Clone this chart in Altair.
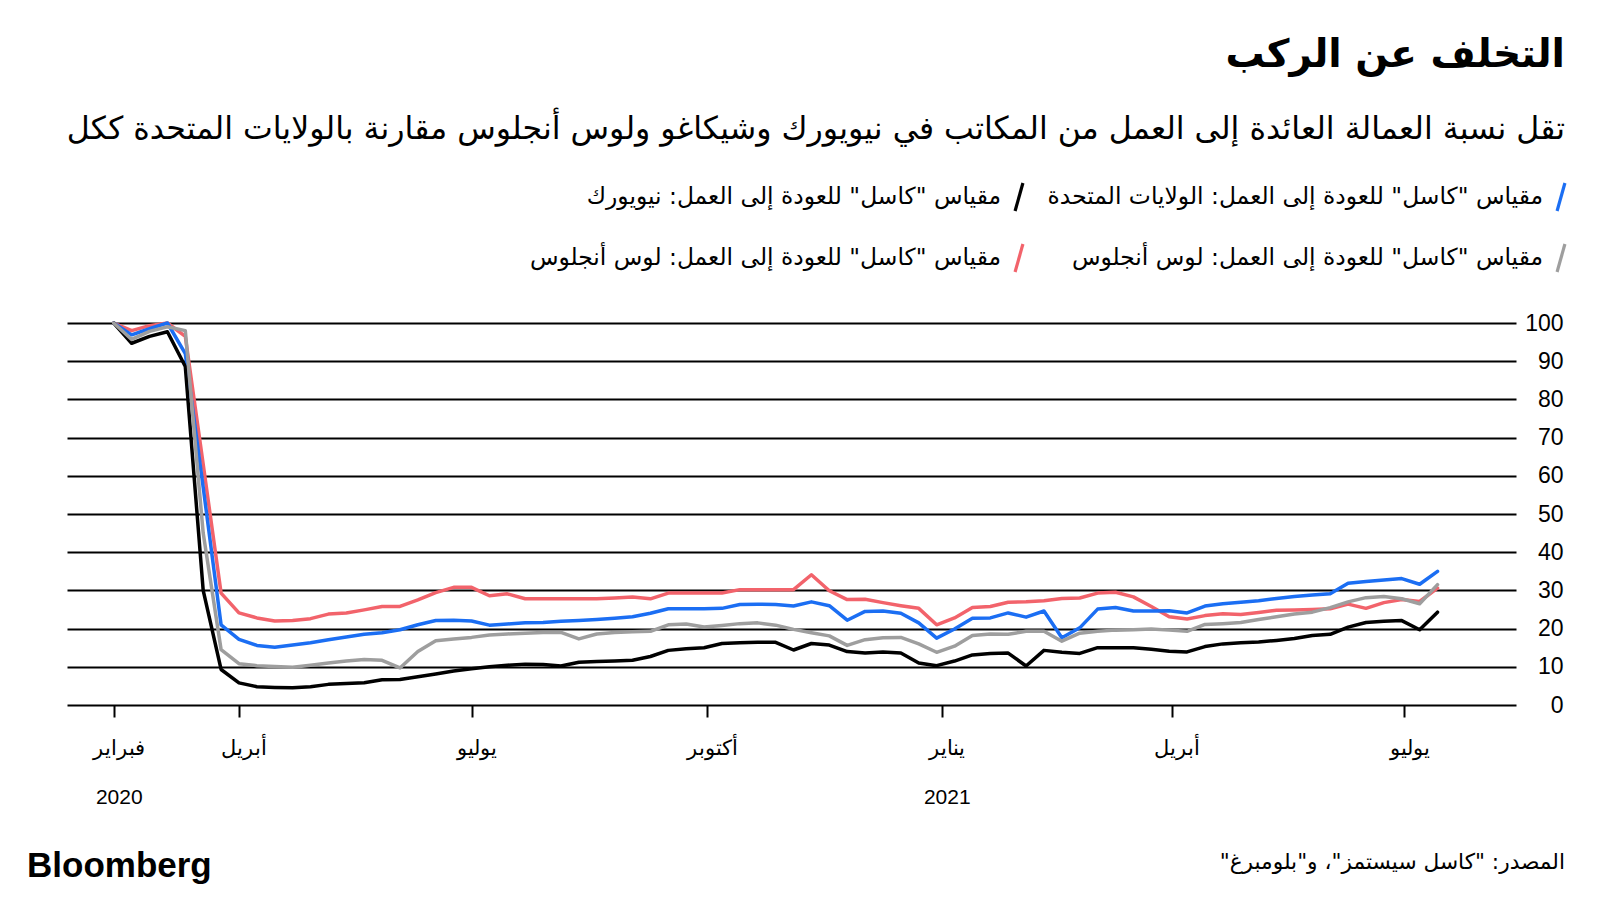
import altair as alt
import pandas as pd

# Weekly (Wednesday) observations, Kastle Back-to-Work barometer
week_dates = pd.date_range("2020-02-12", periods=75, freq="7D").strftime("%Y-%m-%d").tolist()

us = [100, 96.9, 98.5, 100, 92, 57, 21, 17.2, 15.6, 15.1,
      15.7, 16.3, 17.1, 17.8, 18.5, 18.9, 19.7, 21.0, 22.1, 22.2,
      22.0, 20.9, 21.2, 21.5, 21.6, 21.9, 22.1, 22.4, 22.7, 23.1,
      24.0, 25.2, 25.2, 25.2, 25.3, 26.3, 26.4, 26.3, 25.9, 27.0,
      26.0, 22.2, 24.5, 24.6, 24.0, 21.5, 17.5, 19.9, 22.7, 22.8,
      24.1, 23.0, 24.6, 17.6, 20.2, 25.1, 25.5, 24.6, 24.6, 24.7,
      24.1, 25.9, 26.5, 26.9, 27.3, 27.9, 28.4, 28.8, 29.1, 31.9,
      32.3, 32.7, 33.1, 31.6, 35.0]

ny = [100, 94.7, 96.5, 97.7, 88.6, 30, 9.3, 5.8, 4.8, 4.6,
      4.5, 4.8, 5.4, 5.6, 5.8, 6.6, 6.7, 7.4, 8.1, 8.9,
      9.5, 10.0, 10.4, 10.7, 10.6, 10.2, 11.2, 11.4, 11.5, 11.7,
      12.7, 14.3, 14.7, 15.0, 16.1, 16.3, 16.4, 16.4, 14.4, 16.1,
      15.7, 14.0, 13.6, 13.9, 13.6, 11.0, 10.3, 11.5, 13.1, 13.5,
      13.6, 10.2, 14.3, 13.8, 13.5, 15.0, 15.0, 15.0, 14.6, 14.1,
      13.9, 15.3, 16.0, 16.3, 16.5, 16.9, 17.4, 18.2, 18.5, 20.4,
      21.6, 21.9, 22.1, 19.7, 24.3]

la_gray = [100, 95.7, 97.8, 99.0, 98.0, 45, 14.5, 10.8, 10.3, 10.1,
           9.9, 10.4, 11.0, 11.5, 11.9, 11.7, 9.7, 14.0, 16.8, 17.3,
           17.7, 18.3, 18.6, 18.8, 19.0, 19.0, 17.3, 18.6, 19.0, 19.2,
           19.3, 21.0, 21.2, 20.4, 20.8, 21.3, 21.5, 20.9, 19.8, 18.9,
           18.1, 15.6, 17.1, 17.6, 17.7, 16.0, 13.8, 15.4, 18.2, 18.6,
           18.5, 19.3, 19.3, 16.7, 18.8, 19.3, 19.6, 19.7, 19.9, 19.6,
           19.3, 21.1, 21.3, 21.6, 22.4, 23.1, 23.8, 24.3, 25.5, 27.0,
           28.1, 28.4, 27.8, 26.5, 31.5]

la_red = [100, 98, 99.3, 100, 96.5, 63, 29.3, 24.1, 22.8, 22.0,
          22.1, 22.6, 23.8, 24.1, 24.9, 25.8, 25.8, 27.5, 29.4, 30.8,
          30.8, 28.6, 29.1, 27.8, 27.8, 27.8, 27.8, 27.8, 28.0, 28.3,
          27.8, 29.3, 29.3, 29.3, 29.3, 30.2, 30.2, 30.2, 30.2, 34.1,
          29.9, 27.6, 27.7, 26.8, 26.0, 25.3, 21.0, 22.8, 25.5, 25.8,
          26.9, 27.0, 27.3, 27.9, 28.0, 29.3, 29.5, 28.3, 25.8, 23.1,
          22.5, 23.4, 23.9, 23.7, 24.2, 24.8, 24.9, 25.0, 25.2, 26.4,
          25.3, 26.8, 27.6, 27.1, 30.6]

series_keys = ["us", "ny", "la_gray", "la_red"]
series_colors = ["#1b6ef3", "#000000", "#9e9e9e", "#f2636b"]
draw_order = ["la_red", "us", "ny", "la_gray"]
series_values = {"us": us, "ny": ny, "la_gray": la_gray, "la_red": la_red}

legend_labels = [
    'مقياس "كاسل" للعودة إلى العمل: الولايات المتحدة',
    'مقياس "كاسل" للعودة إلى العمل: نيويورك',
    'مقياس "كاسل" للعودة إلى العمل: لوس أنجلوس',
    'مقياس "كاسل" للعودة إلى العمل: لوس أنجلوس',
]
legend_col = [0, 1, 0, 1]
legend_row = [0, 0, 1, 1]

title_text = "التخلف عن الركب"
subtitle_text = "تقل نسبة العمالة العائدة إلى العمل من المكاتب في نيويورك وشيكاغو ولوس أنجلوس مقارنة بالولايات المتحدة ككل"
source_text = 'المصدر: "كاسل سيستمز"، و"بلومبرغ"\u200f'
brand_text = "Bloomberg"

y_ticks = list(range(0, 101, 10))

rows = []
for k in draw_order:
    for d, v in zip(week_dates, series_values[k]):
        rows.append({"date": d, "value": v, "key": k})
df = pd.DataFrame(rows)

legend_df = pd.DataFrame({"key": series_keys, "label": legend_labels,
                          "col": legend_col, "row": legend_row})

color = alt.Color("key:N", scale=alt.Scale(domain=series_keys, range=series_colors), legend=None)

x_ticks = [
    alt.DateTime(year=2020, month=2, date=12, utc=True),
    alt.DateTime(year=2020, month=4, date=1, utc=True),
    alt.DateTime(year=2020, month=7, date=1, utc=True),
    alt.DateTime(year=2020, month=10, date=1, utc=True),
    alt.DateTime(year=2021, month=1, date=1, utc=True),
    alt.DateTime(year=2021, month=4, date=1, utc=True),
    alt.DateTime(year=2021, month=7, date=1, utc=True),
]
label_expr = ("utcmonth(datum.value)==1 ? ['فبراير', '2020'] : "
              "utcmonth(datum.value)==3 ? 'أبريل' : "
              "utcmonth(datum.value)==6 ? 'يوليو' : "
              "utcmonth(datum.value)==9 ? 'أكتوبر' : ['يناير', '2021']")

lines = alt.Chart(df).mark_line(strokeWidth=3.5, strokeJoin="round", strokeCap="round").encode(
    x=alt.X("date:T",
            scale=alt.Scale(type="utc", domain=[
                alt.DateTime(year=2020, month=1, date=24, hours=17, utc=True),
                alt.DateTime(year=2021, month=8, date=13, hours=17, utc=True)]),
            axis=alt.Axis(values=x_ticks, labelExpr=label_expr, grid=False, domain=False,
                          ticks=True, tickColor="black", tickWidth=2, tickSize=12,
                          labelFont="Liberation Sans", labelFontSize=21, labelColor="black",
                          labelPadding=20, labelLineHeight=49, labelOffset=5,
                          labelBaseline="top", title=None)),
    y=alt.Y("value:Q", scale=alt.Scale(domain=[0, 100]),
            axis=alt.Axis(orient="right", values=y_ticks, grid=True, gridColor="black",
                          gridWidth=2, gridOpacity=1, ticks=False, domain=False,
                          labelAlign="right", labelPadding=47, labelFont="Liberation Sans",
                          labelFontSize=23, labelColor="black", title=None)),
    color=color,
)

leg_x = alt.X("col:Q", scale=alt.Scale(domain=[0, 1], range=[1494, 952]), axis=None)
leg_y = alt.Y("row:Q", scale=alt.Scale(domain=[0, 1], range=[-126, -65]), axis=None)

legend_sym = alt.Chart(legend_df).mark_point(
    shape="M-0.28,1L0.28,-1", size=784, strokeWidth=3.2, filled=False, opacity=1
).encode(x=leg_x, y=leg_y, color=color)

legend_txt = alt.Chart(legend_df).mark_text(
    align="right", baseline="middle", dx=-18, font="DejaVu Sans", fontSize=23.4, color="black"
).encode(x=leg_x, y=leg_y, text="label:N")

title = alt.Chart(pd.DataFrame({"t": [title_text]})).mark_text(
    align="right", baseline="middle", font="DejaVu Sans", fontSize=39, fontWeight="bold", color="black"
).encode(x=alt.value(1498), y=alt.value(-268), text="t:N")

subtitle = alt.Chart(pd.DataFrame({"t": [subtitle_text]})).mark_text(
    align="right", baseline="middle", font="DejaVu Sans", fontSize=31.6, color="black"
).encode(x=alt.value(1498), y=alt.value(-193), text="t:N")

brand = alt.Chart(pd.DataFrame({"t": [brand_text]})).mark_text(
    align="left", baseline="alphabetic", font="Liberation Sans", fontSize=35, fontWeight="bold", color="black"
).encode(x=alt.value(-40), y=alt.value(554), text="t:N")

source = alt.Chart(pd.DataFrame({"t": [source_text]})).mark_text(
    align="right", baseline="middle", font="DejaVu Sans", fontSize=21.7, color="black"
).encode(x=alt.value(1498), y=alt.value(539), text="t:N")

chart = alt.layer(lines, legend_sym, legend_txt, title, subtitle, brand, source).resolve_scale(
    x="independent", y="independent"
).properties(
    width=1449, height=382,
    autosize=alt.AutoSizeParams(type="none"),
    padding={"left": 59, "top": 315, "right": 70, "bottom": 185},
    background="white",
).configure_view(stroke=None)

chart.save("out.html", embed_options={"renderer": "svg", "actions": False})
